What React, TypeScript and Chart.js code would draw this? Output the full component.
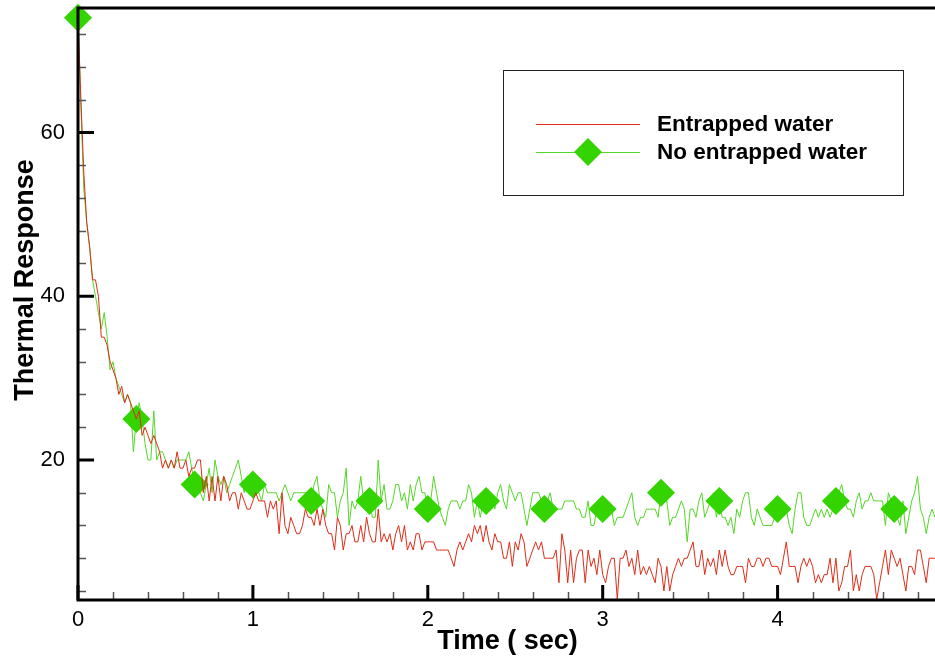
import { useEffect, useRef } from 'react';
import { Chart, registerables } from 'chart.js';

Chart.register(...registerables);

// ---- data ----
const sampleStep = 1 / 60; // seconds between samples
const markerEvery = 20; // a diamond every 20 samples (1/3 s)

const entrappedWater = [
  74, 64, 55, 49, 46, 42, 42, 40, 35, 35, 34, 32, 31, 30, 28, 29, 27, 28, 27, 26,
  25, 26, 23, 24, 23, 22, 23, 22, 21, 19, 20, 19, 20, 19, 21, 19, 19, 20, 18, 19,
  19, 20, 20, 16, 18, 15, 18, 15, 18, 15, 18, 17, 15, 16, 16, 14, 16, 15, 14, 14,
  15, 16, 15, 15, 15, 13, 15, 14, 15, 11, 16, 12, 11, 13, 12, 11, 11, 12, 14, 13,
  13, 12, 14, 12, 14, 12, 11, 11, 9, 13, 12, 9, 11, 11, 12, 10, 10, 12, 10, 13,
  11, 10, 10, 14, 10, 11, 10, 11, 9, 11, 12, 10, 12, 9, 10, 9, 11, 11, 9, 10,
  10, 10, 10, 9, 9, 9, 9, 9, 8, 7, 9, 10, 9, 10, 11, 10, 12, 11, 12, 10,
  12, 10, 9, 11, 10, 10, 8, 8, 10, 7, 10, 9, 11, 10, 7, 8, 9, 10, 9, 10,
  8, 8, 8, 8, 9, 5, 11, 9, 5, 9, 5, 8, 9, 9, 5, 9, 7, 8, 6, 9,
  6, 5, 7, 8, 8, 3, 8, 8, 9, 7, 8, 6, 9, 6, 7, 6, 7, 6, 5, 8,
  7, 4, 7, 4, 6, 7, 8, 7, 8, 8, 9, 10, 7, 7, 9, 6, 8, 7, 8, 6,
  9, 7, 9, 7, 6, 6, 7, 7, 7, 5, 8, 7, 7, 8, 8, 7, 8, 8, 7, 7,
  7, 6, 8, 10, 7, 7, 7, 5, 7, 8, 7, 8, 7, 5, 6, 5, 6, 6, 8, 5,
  8, 4, 5, 7, 7, 9, 4, 6, 4, 6, 7, 7, 7, 6, 3, 5, 7, 9, 6, 9,
  8, 7, 8, 6, 4, 7, 7, 6, 9, 9, 7, 5, 8, 8, 8,
];

const noEntrappedWater = [
  74, 63, 53, 49, 46, 42, 40, 38, 36, 38, 35, 31, 32, 30, 29, 28, 27, 28, 27, 21,
  25, 27, 25, 22, 20, 20, 26, 20, 21, 21, 20, 19, 20, 19, 20, 20, 20, 20, 21, 19,
  17, 18, 16, 15, 17, 19, 16, 20, 18, 17, 18, 16, 17, 18, 19, 20, 18, 16, 18, 17,
  17, 16, 16, 15, 17, 16, 16, 16, 16, 15, 16, 17, 16, 15, 16, 16, 16, 16, 16, 16,
  15, 17, 18, 15, 14, 13, 17, 16, 16, 13, 15, 16, 19, 12, 15, 14, 15, 18, 15, 16,
  15, 13, 13, 20, 15, 17, 14, 14, 15, 17, 17, 15, 16, 14, 17, 15, 17, 18, 16, 16,
  14, 15, 18, 16, 14, 13, 12, 14, 15, 15, 15, 14, 15, 15, 17, 16, 13, 15, 13, 15,
  15, 16, 15, 14, 16, 17, 15, 14, 17, 16, 15, 16, 16, 14, 12, 14, 16, 16, 16, 15,
  14, 15, 16, 14, 14, 14, 14, 15, 15, 15, 15, 14, 14, 13, 13, 15, 12, 12, 14, 14,
  14, 14, 14, 14, 12, 13, 13, 13, 14, 15, 16, 13, 12, 13, 13, 14, 14, 14, 14, 13,
  16, 15, 15, 12, 13, 13, 14, 15, 14, 10, 14, 14, 13, 15, 16, 13, 14, 15, 16, 13,
  15, 13, 13, 12, 13, 11, 14, 13, 15, 16, 16, 13, 12, 14, 13, 12, 12, 12, 12, 13,
  14, 14, 14, 14, 12, 11, 14, 16, 16, 13, 12, 12, 13, 14, 13, 14, 13, 14, 13, 14,
  15, 16, 17, 15, 14, 14, 13, 15, 16, 14, 15, 15, 16, 15, 15, 15, 15, 12, 16, 15,
  14, 13, 12, 15, 11, 13, 15, 16, 18, 14, 13, 11, 13, 14, 13,
];

const seriesLabels = ['Entrapped water', 'No entrapped water'];
const xTickValues = [0, 1, 2, 3, 4];
const yTickValues = [20, 40, 60];
const xMinorStep = 0.2;
const yMinorStep = 4;
const xRange = [0, 4.9];
const yRange = [2.9, 75.2];
const xTitle = 'Time ( sec)';
const yTitle = 'Thermal Response';

// ---- styles ----
const FONT = '"Liberation Sans", Arial, Helvetica, sans-serif';
const RED = 'rgb(222, 44, 24)';
const GREEN_LINE = 'rgb(84, 214, 40)';
const GREEN_MARK = 'rgb(51, 212, 0)';

const toPoints = (vals: number[]) => vals.map((y, i) => ({ x: i * sampleStep, y }));

function drawDiamond(ctx: CanvasRenderingContext2D, x: number, y: number, r: number) {
  ctx.beginPath();
  ctx.moveTo(x - r, y);
  ctx.lineTo(x, y - r);
  ctx.lineTo(x + r, y);
  ctx.lineTo(x, y + r);
  ctx.closePath();
  ctx.fill();
}

const zeroPadding = (s: any) => {
  s.paddingTop = 0;
  s.paddingBottom = 0;
  s.paddingLeft = 0;
  s.paddingRight = 0;
};

const framePlugin = {
  id: 'frameAndLegend',
  afterDraw(chart: any) {
    const { ctx, chartArea: a, scales } = chart;
    const xs = scales.x;
    const ys = scales.y;
    ctx.save();

    // minor ticks (inward)
    ctx.strokeStyle = '#555';
    ctx.lineWidth = 1.5;
    ctx.beginPath();
    for (let k = 1; k * xMinorStep < xRange[1]; k++) {
      const v = k * xMinorStep;
      if (xTickValues.some((t) => Math.abs(t - v) < 1e-6)) continue;
      const px = Math.round(xs.getPixelForValue(v)) + 0.5;
      ctx.moveTo(px, a.bottom);
      ctx.lineTo(px, a.bottom - 8);
    }
    for (let k = 1; k * yMinorStep < yRange[1]; k++) {
      const v = k * yMinorStep;
      if (yTickValues.includes(v)) continue;
      const py = Math.round(ys.getPixelForValue(v)) + 0.5;
      ctx.moveTo(a.left, py);
      ctx.lineTo(a.left + 8, py);
    }
    ctx.stroke();

    // major ticks (inward)
    ctx.strokeStyle = '#000';
    ctx.lineWidth = 3;
    ctx.beginPath();
    xTickValues.forEach((v) => {
      const px = xs.getPixelForValue(v);
      ctx.moveTo(px, a.bottom);
      ctx.lineTo(px, a.bottom - 15);
    });
    yTickValues.forEach((v) => {
      const py = ys.getPixelForValue(v);
      ctx.moveTo(a.left, py);
      ctx.lineTo(a.left + 16, py);
    });
    ctx.stroke();

    // frame
    ctx.lineWidth = 3;
    ctx.beginPath();
    ctx.moveTo(a.right + 2, a.top);
    ctx.lineTo(a.left, a.top);
    ctx.lineTo(a.left, a.bottom);
    ctx.lineTo(a.right + 2, a.bottom);
    ctx.stroke();

    // axis titles
    ctx.fillStyle = '#000';
    ctx.font = `bold 27px ${FONT}`;
    ctx.textAlign = 'center';
    ctx.textBaseline = 'alphabetic';
    ctx.fillText(xTitle, (a.left + a.right) / 2 + 1, 649);
    ctx.save();
    ctx.translate(33, 280);
    ctx.rotate(-Math.PI / 2);
    ctx.fillText(yTitle, 0, 0);
    ctx.restore();

    // legend
    const bx = 503.5, by = 70.5, bw = 400, bh = 125;
    ctx.fillStyle = '#fff';
    ctx.fillRect(bx, by, bw, bh);
    ctx.strokeStyle = '#222';
    ctx.lineWidth = 1;
    ctx.strokeRect(bx, by, bw, bh);

    const rowY = [124, 152];
    ctx.lineWidth = 1;
    ctx.strokeStyle = RED;
    ctx.beginPath();
    ctx.moveTo(536, rowY[0] + 0.5);
    ctx.lineTo(640, rowY[0] + 0.5);
    ctx.stroke();
    ctx.strokeStyle = GREEN_LINE;
    ctx.beginPath();
    ctx.moveTo(536, rowY[1] + 0.5);
    ctx.lineTo(640, rowY[1] + 0.5);
    ctx.stroke();
    ctx.fillStyle = GREEN_MARK;
    drawDiamond(ctx, 588, rowY[1], 14);

    ctx.fillStyle = '#000';
    ctx.font = `bold 22.5px ${FONT}`;
    ctx.textAlign = 'left';
    ctx.textBaseline = 'middle';
    ctx.fillText(seriesLabels[0], 657, rowY[0] + 1);
    ctx.fillText(seriesLabels[1], 657, rowY[1] + 1);

    ctx.restore();
  },
};

export default function App() {
  const canvasRef = useRef<HTMLCanvasElement | null>(null);

  useEffect(() => {
    const canvas = canvasRef.current;
    if (!canvas) return;
    const chart = new Chart(canvas, {
      type: 'line',
      data: {
        datasets: [
          {
            label: seriesLabels[0],
            data: toPoints(entrappedWater),
            borderColor: RED,
            borderWidth: 1,
            pointRadius: 0,
            fill: false,
            tension: 0,
            clip: false as any,
          },
          {
            label: seriesLabels[1],
            data: toPoints(noEntrappedWater),
            borderColor: GREEN_LINE,
            borderWidth: 1,
            pointStyle: 'rectRot',
            pointRadius: (c: any) => (c.dataIndex % markerEvery === 0 ? 14 : 0),
            pointBackgroundColor: GREEN_MARK,
            pointBorderColor: GREEN_MARK,
            pointBorderWidth: 0,
            fill: false,
            tension: 0,
            clip: false as any,
          },
        ],
      },
      options: {
        responsive: false,
        animation: false,
        layout: { autoPadding: false, padding: { top: 8, right: 0, left: 0, bottom: 0 } },
        plugins: {
          legend: { display: false },
          tooltip: { enabled: false },
        },
        scales: {
          x: {
            type: 'linear',
            min: xRange[0],
            max: xRange[1],
            grid: { display: false, drawTicks: false },
            border: { display: false },
            afterBuildTicks: (s: any) => {
              s.ticks = xTickValues.map((v) => ({ value: v }));
            },
            afterFit: (s: any) => {
              s.height = 61;
              zeroPadding(s);
            },
            ticks: {
              color: '#000',
              font: { family: FONT, size: 22 },
              padding: 7,
              maxRotation: 0,
              autoSkip: false,
            },
          },
          y: {
            type: 'linear',
            min: yRange[0],
            max: yRange[1],
            grid: { display: false, drawTicks: false },
            border: { display: false },
            afterBuildTicks: (s: any) => {
              s.ticks = yTickValues.map((v) => ({ value: v }));
            },
            afterFit: (s: any) => {
              s.width = 78;
              zeroPadding(s);
            },
            ticks: {
              color: '#000',
              font: { family: FONT, size: 22 },
              padding: 13,
            },
          },
        },
      },
      plugins: [framePlugin],
    });
    return () => chart.destroy();
  }, []);

  return (
    <div style={{ position: 'absolute', left: 0, top: 0, width: 935, height: 661, background: '#fff' }}>
      <canvas ref={canvasRef} width={935} height={661} />
    </div>
  );
}
